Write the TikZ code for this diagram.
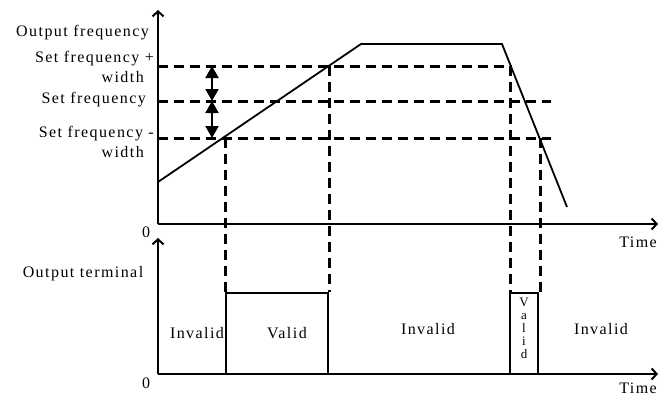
\documentclass[tikz,border=0pt]{standalone}
\usepackage{fontspec}
\setmainfont{Liberation Serif}[LetterSpace=9]
\usepackage{tikz}
\usetikzlibrary{arrows.meta,positioning,calc}
\tikzset{
  fdaxis/.style   = {draw=black, line width=2pt,
                     -{Straight Barb[length=5pt,width=11pt,line width=2pt]}},
  fdcurve/.style  = {draw=black, line width=1.8pt, line join=miter},
  fdlevel/.style  = {draw=black, line width=3pt, dash pattern=on 10pt off 6pt},
  fddrop/.style   = {draw=black, line width=3pt, dash pattern=on 10pt off 6pt},
  fdpulse/.style  = {draw=black, line width=2pt, line join=miter},
  fdspan/.style   = {draw=black, line width=2pt,
                     {Triangle[length=12pt,width=13pt]}-{Triangle[length=12pt,width=13pt]}},
  fdlbl/.style    = {font=\fontsize{16}{20}\selectfont, inner sep=0pt, align=right},
  fdtxt/.style    = {font=\fontsize{16}{20}\selectfont, inner sep=0pt, align=center},
}

\begin{document}
\begin{tikzpicture}[x=1pt, y=-1pt]
  \useasboundingbox (0,0) rectangle (660,396);

  % axes
  \coordinate (o1)   at (158,224);
  \coordinate (top1) at (158,10);
  \coordinate (end1) at (658,224);
  \coordinate (o2)   at (158,374);
  \coordinate (top2) at (158,238);
  \coordinate (end2) at (658,374);
  \draw[fdaxis] (o1) -- (top1);
  \draw[fdaxis] (o1) -- (end1);
  \draw[fdaxis] (o2) -- (top2);
  \draw[fdaxis] (o2) -- (end2);

  % level lines
  \coordinate (hiL) at (158,66);   \coordinate (hiR) at (512,66);
  \coordinate (mdL) at (158,101);  \coordinate (mdR) at (551,101);
  \coordinate (loL) at (158,138);  \coordinate (loR) at (551,138);
  \draw[fdlevel] (hiL) -- (hiR);
  \draw[fdlevel] (mdL) -- (mdR);
  \draw[fdlevel] (loL) -- (loR);

  % output frequency
  \coordinate (f0) at (158,182);
  \coordinate (f1) at (361,44);
  \coordinate (f2) at (502,44);
  \coordinate (f3) at (567,207);
  \draw[fdcurve] (f0) -- (f1) -- (f2) -- (f3);

  % crossings dropped to the terminal
  \coordinate (upLo) at (225,138);  \coordinate (upLoB) at (225,292);
  \coordinate (upHi) at (329,66);   \coordinate (upHiB) at (329,292);
  \coordinate (dnHi) at (510,66);   \coordinate (dnHiB) at (510,292);
  \coordinate (dnLo) at (540,138);  \coordinate (dnLoB) at (540,292);
  \draw[fddrop] (upLo) -- (upLoB);
  \draw[fddrop] (upHi) -- (upHiB);
  \draw[fddrop] (dnHi) -- (dnHiB);
  \draw[fddrop] (dnLo) -- (dnLoB);

  % width spans
  \coordinate (sHi) at (212,66);
  \coordinate (sMd) at (212,101);
  \coordinate (sLo) at (212,138);
  \draw[fdspan] (sHi) -- (sMd);
  \draw[fdspan] (sMd) -- (sLo);

  % terminal pulses
  \draw[fdpulse] (226,374) -- (226,293) -- (328,293) -- (328,374);
  \draw[fdpulse] (510,374) -- (510,293) -- (538,293) -- (538,374);

  % axis labels
  \node[fdlbl, anchor=east] (outf)  at (149,33)  {Output frequency};
  \node[fdlbl, anchor=east] (sfhi)  at (154,67)  {Set frequency +\\width\hspace*{10pt}};
  \node[fdlbl, anchor=east] (sf)    at (146,100) {Set frequency};
  \node[fdlbl, anchor=east] (sflo)  at (154,142) {Set frequency -\\width\hspace*{10pt}};
  \node[fdtxt] (outt)  at (83,274)  {Output terminal};
  \node[fdtxt] (zero1) at (146,232) {0};
  \node[fdtxt] (zero2) at (146,383) {0};
  \node[fdtxt] (time1) at (638,242) {Time};
  \node[fdtxt] (time2) at (638,388) {Time};

  % states
  \node[fdtxt] (inv1) at (197,333) {Invalid};
  \node[fdtxt] (val1) at (287,333) {Valid};
  \node[fdtxt] (inv2) at (428,329) {Invalid};
  \node[fdtxt] (inv3) at (601,329) {Invalid};
  \node[fdtxt, anchor=north, font=\fontsize{13}{13}\selectfont] (val2) at (524,298)
        {V\\a\\l\\i\\d};
\end{tikzpicture}
\end{document}
